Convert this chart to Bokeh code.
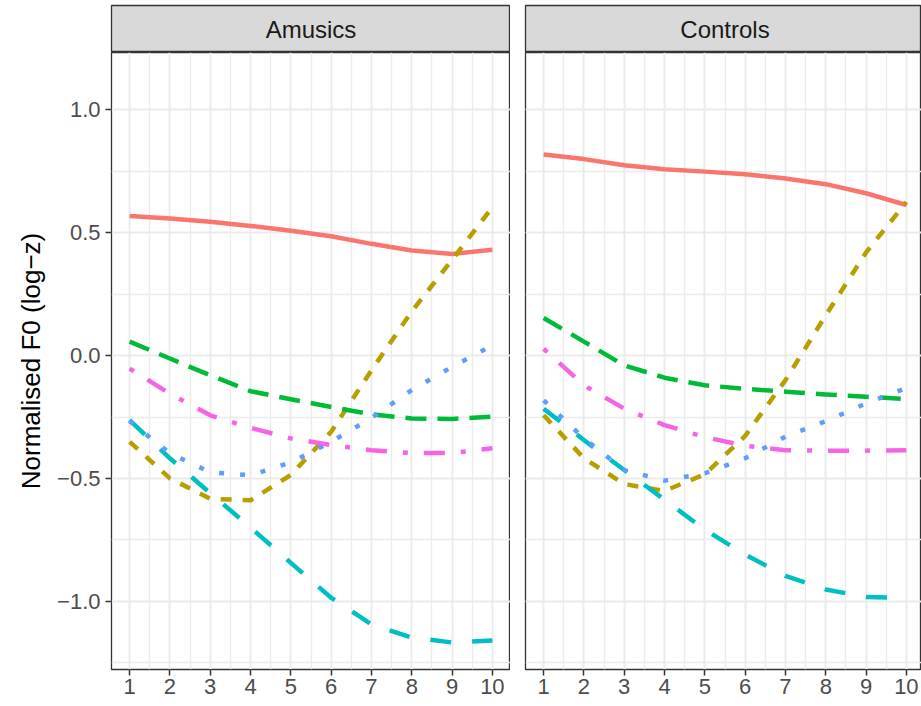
from bokeh.plotting import figure
from bokeh.layouts import row, column
from bokeh.models import (Range1d, FixedTicker, Grid, Label, CustomJSTickFormatter)
from bokeh.embed import file_html
from bokeh.resources import INLINE

# ---- data -----------------------------------------------------------------
time_points = [1, 2, 3, 4, 5, 6, 7, 8, 9, 10]
x_ticks = [1, 2, 3, 4, 5, 6, 7, 8, 9, 10]
x_minor = [1.5, 2.5, 3.5, 4.5, 5.5, 6.5, 7.5, 8.5, 9.5]
y_ticks = [-1.0, -0.5, 0.0, 0.5, 1.0]
y_minor = [-1.25, -0.75, -0.25, 0.25, 0.75]
groups = ["Amusics", "Controls"]

amusics_red = [0.568, 0.558, 0.545, 0.528, 0.508, 0.486, 0.455, 0.428, 0.414, 0.431]
amusics_olive = [-0.351, -0.500, -0.583, -0.589, -0.486, -0.310, -0.060, 0.180, 0.390, 0.604]
amusics_green = [0.057, -0.012, -0.080, -0.145, -0.178, -0.209, -0.239, -0.256, -0.258, -0.248]
amusics_cyan = [-0.263, -0.418, -0.560, -0.700, -0.844, -0.986, -1.094, -1.148, -1.168, -1.160]
amusics_blue = [-0.267, -0.398, -0.475, -0.487, -0.435, -0.351, -0.254, -0.140, -0.046, 0.042]
amusics_magenta = [-0.053, -0.155, -0.243, -0.294, -0.337, -0.364, -0.385, -0.397, -0.397, -0.377]

controls_red = [0.819, 0.800, 0.775, 0.759, 0.749, 0.738, 0.721, 0.698, 0.661, 0.613]
controls_olive = [-0.243, -0.418, -0.523, -0.551, -0.483, -0.327, -0.100, 0.164, 0.420, 0.625]
controls_green = [0.153, 0.057, -0.040, -0.090, -0.121, -0.135, -0.147, -0.158, -0.168, -0.177]
controls_cyan = [-0.216, -0.344, -0.466, -0.587, -0.709, -0.810, -0.897, -0.952, -0.983, -0.986]
controls_blue = [-0.182, -0.337, -0.466, -0.509, -0.479, -0.418, -0.330, -0.267, -0.195, -0.132]
controls_magenta = [0.028, -0.121, -0.216, -0.283, -0.332, -0.367, -0.385, -0.387, -0.387, -0.385]

series_by_group = {
    "Amusics": [amusics_red, amusics_olive, amusics_green,
                amusics_cyan, amusics_blue, amusics_magenta],
    "Controls": [controls_red, controls_olive, controls_green,
                 controls_cyan, controls_blue, controls_magenta],
}

# ---- styling ----------------------------------------------------------------
# ggplot-style hue palette and line types (solid, 22, 42, 44, 13, 1343)
line_styles = [
    ("#F8766D", "solid"),
    ("#B79F00", "11 11"),
    ("#00BA38", "21 11"),
    ("#00BFC4", "21 21"),
    ("#619CFF", "5 16"),
    ("#F564E3", "5 16 21 16"),
]
LINE_W = 4.5
FONT = "Liberation Sans"
GRID_COL = "#EBEBEB"
BORDER_COL = "#333333"

X_START, X_END = 0.55, 10.45
Y_BOTTOM, Y_TOP = -1.278, 1.234
STRIP_H = 47
PANEL_H = 617
AXIS_ROOM = 36
LEFT_FRAME_W = 399
RIGHT_FRAME_W = 396
LEFT_BORDER = 111
GAP = 15


def make_strip(group, frame_w, x_end, border_left):
    s = figure(frame_width=frame_w, frame_height=STRIP_H,
               x_range=Range1d(X_START, x_end), y_range=Range1d(0, 1),
               output_backend="svg", toolbar_location=None,
               x_axis_location=None, y_axis_location=None,
               min_border_left=border_left, min_border_right=0,
               min_border_top=5, min_border_bottom=0)
    s.grid.visible = False
    s.background_fill_color = "#D9D9D9"
    s.border_fill_color = "white"
    s.outline_line_color = BORDER_COL
    s.outline_line_width = 1.3
    s.add_layout(Label(x=(X_START + X_END) / 2, y=0.5, text=group,
                       text_align="center", text_baseline="middle",
                       text_font=FONT, text_font_size="24px", text_color="#1A1A1A"))
    return s


def make_panel(group, show_y, frame_w, x_end, border_left):
    p = figure(frame_width=frame_w, frame_height=PANEL_H,
               x_range=Range1d(X_START, x_end), y_range=Range1d(Y_BOTTOM, Y_TOP),
               output_backend="svg", toolbar_location=None,
               y_axis_location="left" if show_y else None,
               min_border_left=border_left, min_border_right=0,
               min_border_top=0, min_border_bottom=AXIS_ROOM)
    p.background_fill_color = "white"
    p.border_fill_color = "white"
    p.outline_line_color = BORDER_COL
    p.outline_line_width = 1.3

    # x axis
    xt = FixedTicker(ticks=x_ticks, minor_ticks=x_minor)
    p.xaxis.ticker = xt
    p.xaxis.axis_line_color = None
    p.xaxis.minor_tick_line_color = None
    p.xaxis.major_tick_in = 0
    p.xaxis.major_tick_out = 6
    p.xaxis.major_tick_line_color = BORDER_COL
    p.xaxis.major_tick_line_width = 1.5
    p.xaxis.major_label_standoff = 3
    p.xaxis.major_label_text_font = FONT
    p.xaxis.major_label_text_font_size = "22px"
    p.xaxis.major_label_text_color = "#4D4D4D"
    p.xgrid.ticker = xt
    p.xgrid.grid_line_color = GRID_COL
    p.xgrid.grid_line_width = 2
    p.xgrid.minor_grid_line_color = GRID_COL
    p.xgrid.minor_grid_line_width = 1.3

    yt = FixedTicker(ticks=y_ticks, minor_ticks=y_minor)
    if show_y:
        p.yaxis.ticker = yt
        p.yaxis.formatter = CustomJSTickFormatter(
            code="return (tick < 0 ? '\u2212' : '') + Math.abs(tick).toFixed(1);")
        p.yaxis.axis_line_color = None
        p.yaxis.minor_tick_line_color = None
        p.yaxis.major_tick_in = 0
        p.yaxis.major_tick_out = 6
        p.yaxis.major_tick_line_color = BORDER_COL
        p.yaxis.major_tick_line_width = 1.5
        p.yaxis.major_label_standoff = 5
        p.yaxis.major_label_text_font = FONT
        p.yaxis.major_label_text_font_size = "22px"
        p.yaxis.major_label_text_color = "#4D4D4D"
        p.yaxis.axis_label = "Normalised F0 (log\u2212z)"
        p.yaxis.axis_label_text_font = FONT
        p.yaxis.axis_label_text_font_size = "26px"
        p.yaxis.axis_label_text_font_style = "normal"
        p.yaxis.axis_label_text_color = "black"
        p.yaxis.axis_label_standoff = 8
        p.ygrid.ticker = yt
        ygrid = p.ygrid[0]
    else:
        ygrid = Grid(dimension=1, ticker=yt)
        p.add_layout(ygrid)
    ygrid.grid_line_color = GRID_COL
    ygrid.grid_line_width = 2
    ygrid.minor_grid_line_color = GRID_COL
    ygrid.minor_grid_line_width = 1.3

    # one line per series, drawn in factor order
    for values, (col, dash) in zip(series_by_group[group], line_styles):
        p.line(time_points, values, line_color=col, line_width=LINE_W,
               line_dash=dash, line_cap="butt", line_join="round")
    return p


right_x_end = X_START + (X_END - X_START) * RIGHT_FRAME_W / LEFT_FRAME_W

strip_left = make_strip(groups[0], LEFT_FRAME_W, X_END, LEFT_BORDER)
strip_right = make_strip(groups[1], RIGHT_FRAME_W, right_x_end, GAP)
panel_left = make_panel(groups[0], True, LEFT_FRAME_W, X_END, LEFT_BORDER)
panel_right = make_panel(groups[1], False, RIGHT_FRAME_W, right_x_end, GAP)

layout = column(row(strip_left, strip_right), row(panel_left, panel_right))
open("out.html", "w").write(file_html(layout, INLINE))
